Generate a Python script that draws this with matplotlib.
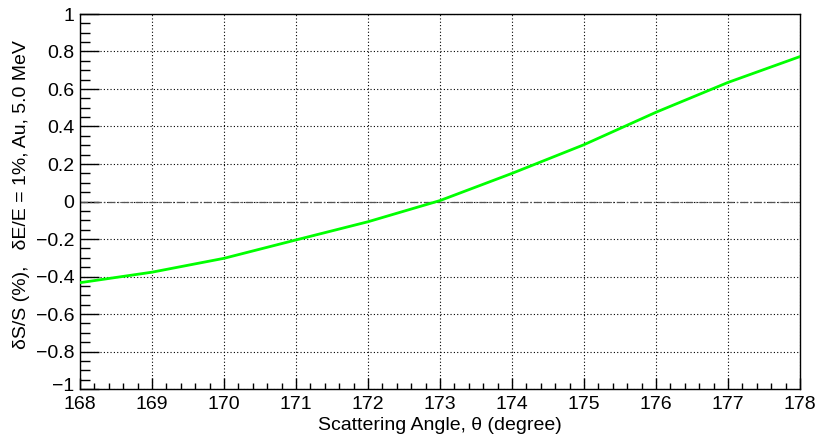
import numpy as np
import matplotlib
matplotlib.use("Agg")
import matplotlib.pyplot as plt
from matplotlib.ticker import MultipleLocator
from matplotlib.transforms import ScaledTranslation

# values
angle = [168, 169, 170, 171, 172, 173, 174, 175, 176, 177, 178]
dS_S = [-0.433, -0.377, -0.303, -0.205, -0.108, 0.005, 0.150, 0.303, 0.476, 0.635, 0.773]
yticks = [-1, -0.8, -0.6, -0.4, -0.2, 0, 0.2, 0.4, 0.6, 0.8, 1]

plt.rcParams['font.family'] = ['Liberation Sans', 'DejaVu Sans']

fig = plt.figure(figsize=(8.19, 4.44), dpi=100)
ax = fig.add_axes([80/819, 1 - 389/444, 720/819, 375/444])

ax.plot(angle, dS_S, color='#00ff00', lw=2.0, zorder=3)
ax.axhline(0, color='#555555', lw=0.9, ls=(0, (6, 2, 1, 2)), zorder=2)

ax.set_xlim(168, 178)
ax.set_ylim(-1, 1)
ax.xaxis.set_major_locator(MultipleLocator(1))
ax.xaxis.set_minor_locator(MultipleLocator(0.2))
ax.yaxis.set_minor_locator(MultipleLocator(0.05))
ax.set_yticks(yticks)
ax.set_yticklabels([f'{v:g}'.replace('-', '\u2212') for v in yticks])

ax.tick_params(axis='both', which='both', direction='in', labelsize=14, color='black')
ax.tick_params(axis='y', which='major', length=14, width=1.0, pad=4)
ax.tick_params(axis='y', which='minor', length=7, width=1.0)
ax.tick_params(axis='x', which='major', length=8, width=1.0, pad=5)
ax.tick_params(axis='x', which='minor', length=4, width=1.0)

# lift the "-1" label a little so it clears "168" below it
lab = ax.get_yticklabels()[0]
lab.set_transform(lab.get_transform() + ScaledTranslation(0, 5/100, fig.dpi_scale_trans))

ax.grid(True, which='major', color='black', ls=(0, (1, 2)), lw=0.8)
for s in ax.spines.values():
    s.set_linewidth(1.0)
    s.set_color('black')

ax.set_xlabel('Scattering Angle, \u03b8 (degree)', fontsize=14, labelpad=3)
fig.text(22/819, 1 - 195/444, '\u03b4S/S (%),   \u03b4E/E = 1%, Au, 5.0 MeV',
         rotation=90, ha='center', va='center', fontsize=14)

fig.savefig('out.png', dpi=100)
